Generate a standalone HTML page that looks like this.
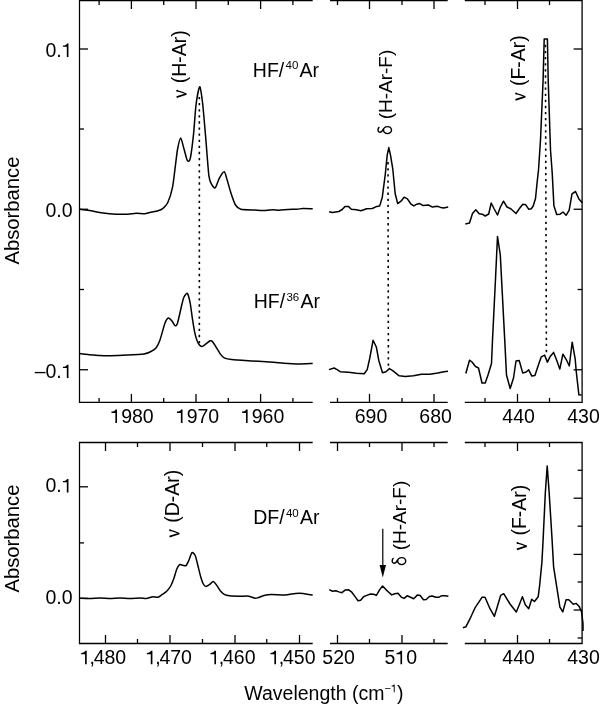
<!DOCTYPE html>
<html><head><meta charset="utf-8"><title>Absorbance spectra</title>
<style>
html,body{margin:0;padding:0;background:#fff;}
svg{display:block;will-change:transform;}
text{font-family:"Liberation Sans",sans-serif;fill:#000;}
.one,.hid{fill:transparent;}
</style></head><body>
<svg width="600" height="704" viewBox="0 0 600 704" stroke="#000" fill="#000">
<line x1="79.00" y1="0.50" x2="312.70" y2="0.50" stroke-width="1.3"/>
<line x1="79.00" y1="402.40" x2="312.70" y2="402.40" stroke-width="1.3"/>
<line x1="330.00" y1="0.50" x2="447.70" y2="0.50" stroke-width="1.3"/>
<line x1="330.00" y1="402.40" x2="447.70" y2="402.40" stroke-width="1.3"/>
<line x1="464.80" y1="0.50" x2="582.30" y2="0.50" stroke-width="1.3"/>
<line x1="464.80" y1="402.40" x2="582.30" y2="402.40" stroke-width="1.3"/>
<line x1="79.50" y1="-0.10" x2="79.50" y2="403.00" stroke-width="1.25"/>
<line x1="582.10" y1="-0.10" x2="582.10" y2="403.00" stroke-width="1.3"/>
<line x1="79.00" y1="442.50" x2="312.70" y2="442.50" stroke-width="1.3"/>
<line x1="79.00" y1="643.50" x2="312.70" y2="643.50" stroke-width="1.3"/>
<line x1="330.00" y1="442.50" x2="447.70" y2="442.50" stroke-width="1.3"/>
<line x1="330.00" y1="643.50" x2="447.70" y2="643.50" stroke-width="1.3"/>
<line x1="464.80" y1="442.50" x2="582.30" y2="442.50" stroke-width="1.3"/>
<line x1="464.80" y1="643.50" x2="582.30" y2="643.50" stroke-width="1.3"/>
<line x1="79.50" y1="441.90" x2="79.50" y2="644.10" stroke-width="1.25"/>
<line x1="582.10" y1="441.90" x2="582.10" y2="644.10" stroke-width="1.3"/>
<line x1="131.40" y1="0.50" x2="131.40" y2="9.00" stroke-width="1.3"/>
<line x1="131.40" y1="402.40" x2="131.40" y2="393.90" stroke-width="1.3"/>
<line x1="196.00" y1="0.50" x2="196.00" y2="9.00" stroke-width="1.3"/>
<line x1="196.00" y1="402.40" x2="196.00" y2="393.90" stroke-width="1.3"/>
<line x1="260.60" y1="0.50" x2="260.60" y2="9.00" stroke-width="1.3"/>
<line x1="260.60" y1="402.40" x2="260.60" y2="393.90" stroke-width="1.3"/>
<line x1="99.10" y1="0.50" x2="99.10" y2="5.00" stroke-width="1.3"/>
<line x1="99.10" y1="402.40" x2="99.10" y2="397.90" stroke-width="1.3"/>
<line x1="163.70" y1="0.50" x2="163.70" y2="5.00" stroke-width="1.3"/>
<line x1="163.70" y1="402.40" x2="163.70" y2="397.90" stroke-width="1.3"/>
<line x1="228.30" y1="0.50" x2="228.30" y2="5.00" stroke-width="1.3"/>
<line x1="228.30" y1="402.40" x2="228.30" y2="397.90" stroke-width="1.3"/>
<line x1="292.90" y1="0.50" x2="292.90" y2="5.00" stroke-width="1.3"/>
<line x1="292.90" y1="402.40" x2="292.90" y2="397.90" stroke-width="1.3"/>
<line x1="369.50" y1="0.50" x2="369.50" y2="9.00" stroke-width="1.3"/>
<line x1="369.50" y1="402.40" x2="369.50" y2="393.90" stroke-width="1.3"/>
<line x1="434.00" y1="0.50" x2="434.00" y2="9.00" stroke-width="1.3"/>
<line x1="434.00" y1="402.40" x2="434.00" y2="393.90" stroke-width="1.3"/>
<line x1="337.50" y1="0.50" x2="337.50" y2="5.00" stroke-width="1.3"/>
<line x1="337.50" y1="402.40" x2="337.50" y2="397.90" stroke-width="1.3"/>
<line x1="402.00" y1="0.50" x2="402.00" y2="5.00" stroke-width="1.3"/>
<line x1="402.00" y1="402.40" x2="402.00" y2="397.90" stroke-width="1.3"/>
<line x1="517.50" y1="0.50" x2="517.50" y2="9.00" stroke-width="1.3"/>
<line x1="517.50" y1="402.40" x2="517.50" y2="393.90" stroke-width="1.3"/>
<line x1="485.00" y1="0.50" x2="485.00" y2="5.00" stroke-width="1.3"/>
<line x1="485.00" y1="402.40" x2="485.00" y2="397.90" stroke-width="1.3"/>
<line x1="549.50" y1="0.50" x2="549.50" y2="5.00" stroke-width="1.3"/>
<line x1="549.50" y1="402.40" x2="549.50" y2="397.90" stroke-width="1.3"/>
<line x1="79.50" y1="49.00" x2="88.00" y2="49.00" stroke-width="1.3"/>
<line x1="582.10" y1="49.00" x2="573.60" y2="49.00" stroke-width="1.3"/>
<line x1="79.50" y1="209.25" x2="88.00" y2="209.25" stroke-width="1.3"/>
<line x1="582.10" y1="209.25" x2="573.60" y2="209.25" stroke-width="1.3"/>
<line x1="79.50" y1="369.75" x2="88.00" y2="369.75" stroke-width="1.3"/>
<line x1="582.10" y1="369.75" x2="573.60" y2="369.75" stroke-width="1.3"/>
<line x1="79.50" y1="129.00" x2="84.00" y2="129.00" stroke-width="1.3"/>
<line x1="582.10" y1="129.00" x2="577.60" y2="129.00" stroke-width="1.3"/>
<line x1="79.50" y1="289.50" x2="84.00" y2="289.50" stroke-width="1.3"/>
<line x1="582.10" y1="289.50" x2="577.60" y2="289.50" stroke-width="1.3"/>
<line x1="105.50" y1="442.50" x2="105.50" y2="451.00" stroke-width="1.3"/>
<line x1="105.50" y1="643.50" x2="105.50" y2="635.00" stroke-width="1.3"/>
<line x1="170.00" y1="442.50" x2="170.00" y2="451.00" stroke-width="1.3"/>
<line x1="170.00" y1="643.50" x2="170.00" y2="635.00" stroke-width="1.3"/>
<line x1="235.00" y1="442.50" x2="235.00" y2="451.00" stroke-width="1.3"/>
<line x1="235.00" y1="643.50" x2="235.00" y2="635.00" stroke-width="1.3"/>
<line x1="299.50" y1="442.50" x2="299.50" y2="451.00" stroke-width="1.3"/>
<line x1="299.50" y1="643.50" x2="299.50" y2="635.00" stroke-width="1.3"/>
<line x1="137.50" y1="442.50" x2="137.50" y2="447.00" stroke-width="1.3"/>
<line x1="137.50" y1="643.50" x2="137.50" y2="639.00" stroke-width="1.3"/>
<line x1="202.50" y1="442.50" x2="202.50" y2="447.00" stroke-width="1.3"/>
<line x1="202.50" y1="643.50" x2="202.50" y2="639.00" stroke-width="1.3"/>
<line x1="266.75" y1="442.50" x2="266.75" y2="447.00" stroke-width="1.3"/>
<line x1="266.75" y1="643.50" x2="266.75" y2="639.00" stroke-width="1.3"/>
<line x1="337.50" y1="442.50" x2="337.50" y2="451.00" stroke-width="1.3"/>
<line x1="337.50" y1="643.50" x2="337.50" y2="635.00" stroke-width="1.3"/>
<line x1="402.00" y1="442.50" x2="402.00" y2="451.00" stroke-width="1.3"/>
<line x1="402.00" y1="643.50" x2="402.00" y2="635.00" stroke-width="1.3"/>
<line x1="369.50" y1="442.50" x2="369.50" y2="447.00" stroke-width="1.3"/>
<line x1="369.50" y1="643.50" x2="369.50" y2="639.00" stroke-width="1.3"/>
<line x1="434.00" y1="442.50" x2="434.00" y2="447.00" stroke-width="1.3"/>
<line x1="434.00" y1="643.50" x2="434.00" y2="639.00" stroke-width="1.3"/>
<line x1="517.50" y1="442.50" x2="517.50" y2="451.00" stroke-width="1.3"/>
<line x1="517.50" y1="643.50" x2="517.50" y2="635.00" stroke-width="1.3"/>
<line x1="485.00" y1="442.50" x2="485.00" y2="447.00" stroke-width="1.3"/>
<line x1="485.00" y1="643.50" x2="485.00" y2="639.00" stroke-width="1.3"/>
<line x1="549.50" y1="442.50" x2="549.50" y2="447.00" stroke-width="1.3"/>
<line x1="549.50" y1="643.50" x2="549.50" y2="639.00" stroke-width="1.3"/>
<line x1="79.50" y1="486.80" x2="88.00" y2="486.80" stroke-width="1.3"/>
<line x1="79.50" y1="598.40" x2="88.00" y2="598.40" stroke-width="1.3"/>
<line x1="79.50" y1="542.90" x2="84.00" y2="542.90" stroke-width="1.3"/>
<line x1="582.10" y1="498.20" x2="573.60" y2="498.20" stroke-width="1.3"/>
<line x1="582.10" y1="554.40" x2="573.60" y2="554.40" stroke-width="1.3"/>
<line x1="582.10" y1="610.00" x2="573.60" y2="610.00" stroke-width="1.3"/>
<line x1="582.10" y1="470.25" x2="577.60" y2="470.25" stroke-width="1.3"/>
<line x1="582.10" y1="526.20" x2="577.60" y2="526.20" stroke-width="1.3"/>
<line x1="582.10" y1="582.00" x2="577.60" y2="582.00" stroke-width="1.3"/>
<line x1="582.10" y1="638.00" x2="577.60" y2="638.00" stroke-width="1.3"/>
<path d="M80.00,209.30 C80.93,209.42 85.32,209.87 88.00,210.30 C90.68,210.73 99.70,212.55 103.00,213.00 C106.30,213.45 113.38,214.06 116.30,214.20 C119.22,214.34 125.67,214.30 128.00,214.20 C130.33,214.09 134.35,213.35 136.30,213.30 C138.25,213.25 143.14,213.89 144.70,213.80 C146.26,213.71 148.15,212.85 149.70,212.50 C151.25,212.15 156.45,211.29 158.00,210.80 C159.55,210.31 161.87,209.23 163.00,208.30 C164.13,207.37 166.59,205.24 167.70,202.80 C168.81,200.36 171.61,191.66 172.50,187.40 C173.39,183.14 174.71,170.78 175.30,166.30 C175.90,161.82 176.97,152.30 177.60,149.00 C178.23,145.70 179.95,138.00 180.70,138.00 C181.45,138.00 183.22,146.36 184.00,149.00 C184.78,151.64 186.66,159.51 187.40,160.60 C188.14,161.69 189.58,161.44 190.30,158.30 C191.02,155.16 192.94,139.92 193.60,133.70 C194.26,127.48 195.29,110.48 196.00,105.00 C196.71,99.52 198.93,86.93 199.70,86.70 C200.47,86.47 201.90,97.06 202.60,103.00 C203.30,108.94 204.96,129.09 205.70,137.60 C206.44,146.10 208.19,170.42 208.90,175.90 C209.61,181.38 211.05,183.21 211.80,184.60 C212.55,185.99 214.40,188.59 215.30,187.80 C216.20,187.01 218.45,179.68 219.50,177.80 C220.55,175.92 223.41,171.47 224.30,171.70 C225.19,171.93 226.32,177.29 227.10,179.80 C227.88,182.31 230.02,190.26 231.00,193.20 C231.98,196.14 234.36,203.13 235.50,205.00 C236.64,206.87 238.47,208.62 240.75,209.20 C243.03,209.78 252.11,209.85 255.00,210.00 C257.89,210.15 263.40,210.53 265.50,210.50 C267.60,210.47 271.43,209.73 273.00,209.70 C274.57,209.67 277.25,210.27 279.00,210.25 C280.75,210.23 285.90,209.62 288.00,209.50 C290.10,209.38 295.25,209.32 297.00,209.20 C298.75,209.08 301.17,208.55 303.00,208.50 C304.83,208.45 311.57,208.72 312.70,208.75" fill="none" stroke-width="1.5" stroke-linejoin="round"/>
<path d="M80.00,353.60 C80.93,353.72 85.67,354.37 88.00,354.60 C90.33,354.83 96.50,355.51 100.00,355.60 C103.50,355.69 113.57,355.52 118.00,355.40 C122.43,355.28 134.97,354.76 138.00,354.60 C141.03,354.44 142.60,354.30 144.00,354.00 C145.40,353.70 148.60,352.70 150.00,352.00 C151.40,351.30 154.83,349.40 156.00,348.00 C157.17,346.60 158.95,342.92 160.00,340.00 C161.05,337.08 164.02,325.57 165.00,323.00 C165.98,320.43 167.58,318.23 168.40,318.00 C169.22,317.77 171.23,320.11 172.00,321.00 C172.77,321.89 174.37,325.30 175.00,325.60 C175.63,325.90 176.58,326.12 177.40,323.60 C178.22,321.08 181.23,307.10 182.00,304.00 C182.77,300.90 183.38,298.24 184.00,297.00 C184.62,295.76 186.59,292.73 187.30,293.40 C188.01,294.06 189.50,299.76 190.10,302.70 C190.69,305.64 191.86,315.15 192.40,318.60 C192.94,322.05 194.17,329.78 194.70,332.30 C195.22,334.82 196.38,338.74 196.90,340.20 C197.43,341.66 198.60,344.06 199.20,344.80 C199.79,345.54 201.26,346.57 202.00,346.50 C202.74,346.43 204.57,344.87 205.50,344.20 C206.43,343.53 209.21,341.13 210.00,340.80 C210.79,340.47 211.64,340.73 212.30,341.40 C212.97,342.06 214.78,345.04 215.70,346.50 C216.62,347.96 219.21,352.58 220.20,353.90 C221.19,355.22 222.86,357.13 224.20,357.80 C225.54,358.47 228.40,359.23 231.70,359.60 C235.00,359.97 247.65,360.69 252.50,361.00 C257.35,361.31 269.65,362.03 273.30,362.30 C276.95,362.57 280.83,363.10 283.75,363.30 C286.67,363.50 294.92,363.98 298.30,364.00 C301.68,364.02 311.02,363.56 312.70,363.50" fill="none" stroke-width="1.5" stroke-linejoin="round"/>
<polyline points="329.1,211.8 332.5,212.5 338.8,211.5 342.2,209.5 345.0,206.4 348.4,206.4 351.3,209.3 356.4,209.8 361.0,210.7 366.6,208.7 372.3,208.5 376.8,206.4 379.7,205.9 382.3,197.2 385.2,175.0 387.2,155.2 388.8,147.6 390.5,155.2 392.8,169.2 395.2,193.7 397.7,203.6 401.0,201.2 404.1,197.2 407.4,198.9 410.9,204.0 413.8,205.9 416.8,204.2 419.7,203.6 423.2,205.6 428.4,205.0 432.5,207.1 437.2,206.3 440.7,207.4 443.6,208.0 448.2,207.1" fill="none" stroke-width="1.5" stroke-linejoin="round"/>
<polyline points="329.0,369.6 334.1,368.0 337.1,369.6 340.2,371.7 348.3,372.3 356.5,373.3 364.2,373.7 367.2,369.6 369.7,358.5 373.1,340.2 376.4,347.3 378.8,360.5 382.5,372.7 386.0,371.7 389.4,368.6 392.7,370.7 399.2,375.8 405.3,376.4 413.4,375.8 421.5,374.3 429.7,374.3 437.8,373.1 443.9,371.7 448.0,371.3" fill="none" stroke-width="1.5" stroke-linejoin="round"/>
<polyline points="465.3,224.0 469.5,223.0 472.5,213.5 475.8,209.8 479.2,213.8 482.2,214.2 485.2,216.0 488.7,214.0 491.2,203.0 494.2,209.0 497.5,215.0 500.2,207.5 503.5,201.2 507.0,207.0 510.8,208.7 516.0,213.5 519.8,208.0 522.8,204.2 525.8,204.8 528.8,209.3 531.3,208.7 533.2,206.0 535.5,198.5 537.0,183.5 538.5,170.0 540.5,140.0 543.1,80.0 544.2,39.1 547.4,39.1 548.2,80.0 550.5,150.0 552.2,172.7 553.9,205.7 556.7,214.5 560.1,214.2 563.0,212.0 566.1,215.3 569.2,210.2 572.0,193.8 575.5,191.5 578.9,198.9 582.3,202.8" fill="none" stroke-width="1.5" stroke-linejoin="round"/>
<polyline points="465.8,373.5 469.5,360.2 472.0,362.0 475.5,366.5 478.5,368.0 482.0,383.0 485.2,383.0 488.0,375.0 491.5,363.5 492.5,340.0 495.6,277.0 497.5,236.6 500.3,255.0 504.7,339.4 506.5,375.0 510.2,388.5 513.5,378.0 516.0,361.0 519.2,360.5 522.7,372.9 526.2,372.0 528.7,369.9 531.8,376.1 534.9,375.5 538.4,365.0 541.3,356.8 544.6,355.1 547.4,362.1 550.4,356.2 553.6,352.4 556.5,359.8 559.8,369.1 562.9,354.2 566.4,359.8 569.3,366.0 572.2,342.2 575.2,359.2 576.3,372.0 578.9,394.8 581.6,395.1" fill="none" stroke-width="1.5" stroke-linejoin="round"/>
<path d="M80.00,598.30 C81.17,598.33 87.67,598.63 90.00,598.60 C92.33,598.57 97.67,598.01 100.00,598.00 C102.33,597.99 107.67,598.49 110.00,598.50 C112.33,598.51 117.67,598.09 120.00,598.10 C122.33,598.11 127.67,598.61 130.00,598.60 C132.33,598.59 138.13,598.02 140.00,598.00 C141.87,597.98 144.72,598.49 146.00,598.40 C147.28,598.31 150.15,597.40 151.00,597.20 C151.85,597.00 152.48,596.69 153.30,596.70 C154.12,596.71 156.99,597.53 158.00,597.30 C159.01,597.07 160.99,595.40 162.00,594.70 C163.01,594.00 165.69,592.31 166.70,591.30 C167.71,590.28 169.85,587.55 170.70,586.00 C171.55,584.45 173.30,579.95 174.00,578.00 C174.70,576.05 176.05,570.85 176.70,569.30 C177.35,567.75 178.90,565.17 179.60,564.70 C180.30,564.23 181.95,565.19 182.70,565.30 C183.45,565.40 185.30,566.14 186.00,565.60 C186.70,565.06 188.00,562.21 188.70,560.70 C189.40,559.20 191.23,553.28 192.00,552.70 C192.77,552.12 194.60,554.15 195.30,555.70 C196.00,557.25 197.37,563.55 198.00,566.00 C198.63,568.45 200.08,574.60 200.70,576.70 C201.32,578.80 202.68,582.87 203.30,584.00 C203.92,585.13 205.30,586.32 206.00,586.40 C206.70,586.48 208.45,585.26 209.30,584.70 C210.15,584.14 212.44,581.53 213.30,581.60 C214.16,581.67 215.84,584.17 216.70,585.30 C217.56,586.43 219.77,590.20 220.70,591.30 C221.63,592.40 223.67,594.18 224.70,594.70 C225.73,595.22 227.72,595.58 229.50,595.75 C231.28,595.92 237.72,596.15 240.00,596.20 C242.28,596.25 247.25,595.96 249.00,596.20 C250.75,596.45 253.95,598.12 255.00,598.30 C256.05,598.47 256.95,598.03 258.00,597.70 C259.05,597.37 262.43,595.82 264.00,595.45 C265.57,595.08 269.05,594.60 271.50,594.55 C273.95,594.50 282.20,595.12 285.00,595.00 C287.80,594.88 293.40,593.67 295.50,593.50 C297.60,593.33 301.43,593.38 303.00,593.50 C304.57,593.62 307.87,594.38 309.00,594.55 C310.13,594.72 312.27,594.95 312.70,595.00" fill="none" stroke-width="1.5" stroke-linejoin="round"/>
<polyline points="329.2,589.6 332.6,591.2 335.8,590.7 338.9,591.9 341.9,592.7 345.1,590.1 348.7,589.8 351.8,592.2 354.9,596.4 358.0,600.7 360.6,600.2 363.6,596.7 366.2,595.6 370.4,594.0 373.5,594.3 376.4,595.3 379.7,589.6 382.6,586.0 385.9,589.6 388.2,591.7 391.7,594.9 394.8,593.8 398.0,593.3 401.2,597.1 404.0,598.4 407.2,595.8 410.5,597.3 413.7,598.7 417.5,594.9 420.2,595.5 423.5,599.8 426.2,599.5 429.4,596.5 432.1,596.0 435.9,597.3 438.6,597.3 441.9,595.7 445.1,595.7 448.4,596.3" fill="none" stroke-width="1.5" stroke-linejoin="round"/>
<polyline points="462.9,627.7 466.0,626.7 470.7,617.3 475.3,607.3 482.0,597.3 485.0,597.3 490.0,608.7 494.4,616.3 497.3,606.7 500.7,595.3 503.7,593.7 510.0,604.0 516.3,612.0 519.3,604.7 522.4,596.7 525.3,604.7 528.7,608.7 531.7,599.3 534.5,601.5 538.2,596.7 539.7,584.8 541.9,562.4 543.1,540.0 545.3,493.3 547.2,465.9 549.2,493.3 552.1,540.0 553.6,566.9 556.9,587.8 559.9,607.2 562.8,611.9 566.1,599.7 568.8,599.7 573.3,604.2 576.3,603.4 579.2,606.4 581.5,611.6 583.0,623.6 583.0,631.0" fill="none" stroke-width="1.5" stroke-linejoin="round"/>
<line x1="199.35" y1="96.95" x2="199.35" y2="344" stroke-width="1.6" stroke-dasharray="2.3 3.8"/>
<line x1="388.0" y1="162.1" x2="388.4" y2="368" stroke-width="1.6" stroke-dasharray="2.3 3.8"/>
<line x1="545.4" y1="44.85" x2="546.4" y2="352.5" stroke-width="1.6" stroke-dasharray="2.3 3.8"/>
<line x1="382.80" y1="528.70" x2="382.80" y2="566.00" stroke-width="1.2"/>
<polygon points="379.6,565 386,565 382.8,577.6" stroke="none"/>
<text stroke="none" x="72.6" y="56.9" font-size="19.5" text-anchor="end">0.<tspan class="one">1</tspan></text>
<text stroke="none" x="72.6" y="217.2" font-size="19.5" text-anchor="end">0.0</text>
<text stroke="none" x="72.6" y="378.1" font-size="19.5" text-anchor="end">–0.<tspan class="one">1</tspan></text>
<text stroke="none" x="72.6" y="492.4" font-size="19.5" text-anchor="end">0.<tspan class="one">1</tspan></text>
<text stroke="none" x="72.6" y="604" font-size="19.5" text-anchor="end">0.0</text>
<text stroke="none" x="132" y="423" font-size="19.5" text-anchor="middle"><tspan class="one">1</tspan>980</text>
<text stroke="none" x="197.5" y="423" font-size="19.5" text-anchor="middle"><tspan class="one">1</tspan>970</text>
<text stroke="none" x="262.6" y="423" font-size="19.5" text-anchor="middle"><tspan class="one">1</tspan>960</text>
<text stroke="none" x="371" y="423" font-size="19.5" text-anchor="middle">690</text>
<text stroke="none" x="435.6" y="423" font-size="19.5" text-anchor="middle">680</text>
<text stroke="none" x="518.6" y="423" font-size="19.5" text-anchor="middle">440</text>
<text stroke="none" x="583.5" y="423" font-size="19.5" text-anchor="middle">430</text>
<text stroke="none" x="80.0" y="664.3" font-size="19.5"><tspan class="one">1</tspan><tspan dx="-1.3">,</tspan><tspan dx="-1.3">480</tspan></text>
<text stroke="none" x="145.7" y="664.3" font-size="19.5"><tspan class="one">1</tspan><tspan dx="-1.3">,</tspan><tspan dx="-1.3">470</tspan></text>
<text stroke="none" x="209.3" y="664.3" font-size="19.5"><tspan class="one">1</tspan><tspan dx="-1.3">,</tspan><tspan dx="-1.3">460</tspan></text>
<text stroke="none" x="269.3" y="664.3" font-size="19.5"><tspan class="one">1</tspan><tspan dx="-1.3">,</tspan><tspan dx="-1.3">450</tspan></text>
<text stroke="none" x="338.6" y="664.3" font-size="19.5" text-anchor="middle">520</text>
<text stroke="none" x="400.8" y="664.3" font-size="19.5" text-anchor="middle">5<tspan class="one">1</tspan>0</text>
<text stroke="none" x="518.6" y="664.3" font-size="19.5" text-anchor="middle">440</text>
<text stroke="none" x="583.5" y="664.3" font-size="19.5" text-anchor="middle">430</text>
<text stroke="none" x="18.9" y="264.6" font-size="20.25" text-anchor="start" transform="rotate(-90 18.9 264.6)">Absorbance</text>
<text stroke="none" x="18.9" y="592.6" font-size="20.25" text-anchor="start" transform="rotate(-90 18.9 592.6)">Absorbance</text>
<text stroke="none" x="244.3" y="700.4" font-size="19.5">Wavelength (cm<tspan font-size="11" dy="-8.2">−</tspan><tspan font-size="11" class="one">1</tspan><tspan dy="8.2">)</tspan></text>
<text stroke="none" x="252.8" y="76.6" font-size="19.5">HF/<tspan font-size="11.5" dx="1.3" dy="-7.2">40</tspan><tspan dx="1.2" dy="7.2">Ar</tspan></text>
<text stroke="none" x="253.7" y="307.9" font-size="19.5">HF/<tspan font-size="11.5" dx="1.3" dy="-7.2">36</tspan><tspan dx="1.2" dy="7.2">Ar</tspan></text>
<text stroke="none" x="253.2" y="524.2" font-size="19.5">DF/<tspan font-size="11.5" dx="1.3" dy="-7.2">40</tspan><tspan dx="1.2" dy="7.2">Ar</tspan></text>
<text stroke="none" x="186.1" y="98.5" font-size="19.5" text-anchor="start" transform="rotate(-90 186.1 98.5)"><tspan class="hid">ν</tspan> (H-Ar)</text>
<g transform="translate(186.1 98.5) rotate(-90)"><path d="M1.4,-9.5 L4.5,0.3" fill="none" stroke-width="1.8"/><path d="M4.5,0.3 Q6.5,-4.4 7.6,-8.8" fill="none" stroke-width="1.1"/><circle cx="7.7" cy="-8.9" r="1.0" stroke="none"/></g>
<text stroke="none" x="392.1" y="135.2" font-size="19" text-anchor="start" transform="rotate(-90 392.1 135.2)"><tspan class="hid">δ</tspan> (H-Ar-F)</text>
<path transform="translate(392.1 135.2) rotate(-90)" d="M5.1,-0.6 A3.5,4.0 0 1 1 5.1,-8.6 A3.5,4.0 0 1 1 5.1,-0.6 Z M6.8,-8.2 C4.2,-9.6 2.6,-11.4 3.1,-12.9 C3.6,-14.4 6.0,-14.5 7.8,-13.2" fill="none" stroke-width="1.45" stroke-linecap="round"/>
<text stroke="none" x="525.0" y="101.2" font-size="19.5" text-anchor="start" transform="rotate(-90 525.0 101.2)"><tspan class="hid">ν</tspan> (F-Ar)</text>
<g transform="translate(525.0 101.2) rotate(-90)"><path d="M1.4,-9.5 L4.5,0.3" fill="none" stroke-width="1.8"/><path d="M4.5,0.3 Q6.5,-4.4 7.6,-8.8" fill="none" stroke-width="1.1"/><circle cx="7.7" cy="-8.9" r="1.0" stroke="none"/></g>
<text stroke="none" x="179.0" y="538.0" font-size="19.5" text-anchor="start" transform="rotate(-90 179.0 538.0)"><tspan class="hid">ν</tspan> (D-Ar)</text>
<g transform="translate(179.0 538.0) rotate(-90)"><path d="M1.4,-9.5 L4.5,0.3" fill="none" stroke-width="1.8"/><path d="M4.5,0.3 Q6.5,-4.4 7.6,-8.8" fill="none" stroke-width="1.1"/><circle cx="7.7" cy="-8.9" r="1.0" stroke="none"/></g>
<text stroke="none" x="406.3" y="566.2" font-size="19" text-anchor="start" transform="rotate(-90 406.3 566.2)"><tspan class="hid">δ</tspan> (H-Ar-F)</text>
<path transform="translate(406.3 566.2) rotate(-90)" d="M5.1,-0.6 A3.5,4.0 0 1 1 5.1,-8.6 A3.5,4.0 0 1 1 5.1,-0.6 Z M6.8,-8.2 C4.2,-9.6 2.6,-11.4 3.1,-12.9 C3.6,-14.4 6.0,-14.5 7.8,-13.2" fill="none" stroke-width="1.45" stroke-linecap="round"/>
<text stroke="none" x="526.4" y="550.7" font-size="19.5" text-anchor="start" transform="rotate(-90 526.4 550.7)"><tspan class="hid">ν</tspan> (F-Ar)</text>
<g transform="translate(526.4 550.7) rotate(-90)"><path d="M1.4,-9.5 L4.5,0.3" fill="none" stroke-width="1.8"/><path d="M4.5,0.3 Q6.5,-4.4 7.6,-8.8" fill="none" stroke-width="1.1"/><circle cx="7.7" cy="-8.9" r="1.0" stroke="none"/></g>
<path transform="translate(61.74 56.90) scale(19.5)" d="M0.345,-0.69 L0.345,0 L0.26,0 L0.26,-0.515 L0.06,-0.515 L0.06,-0.585 C0.17,-0.59 0.245,-0.62 0.265,-0.69 Z" stroke="none"/>
<path transform="translate(61.74 378.10) scale(19.5)" d="M0.345,-0.69 L0.345,0 L0.26,0 L0.26,-0.515 L0.06,-0.515 L0.06,-0.585 C0.17,-0.59 0.245,-0.62 0.265,-0.69 Z" stroke="none"/>
<path transform="translate(61.74 492.40) scale(19.5)" d="M0.345,-0.69 L0.345,0 L0.26,0 L0.26,-0.515 L0.06,-0.515 L0.06,-0.585 C0.17,-0.59 0.245,-0.62 0.265,-0.69 Z" stroke="none"/>
<path transform="translate(110.30 423.00) scale(19.5)" d="M0.345,-0.69 L0.345,0 L0.26,0 L0.26,-0.515 L0.06,-0.515 L0.06,-0.585 C0.17,-0.59 0.245,-0.62 0.265,-0.69 Z" stroke="none"/>
<path transform="translate(175.80 423.00) scale(19.5)" d="M0.345,-0.69 L0.345,0 L0.26,0 L0.26,-0.515 L0.06,-0.515 L0.06,-0.585 C0.17,-0.59 0.245,-0.62 0.265,-0.69 Z" stroke="none"/>
<path transform="translate(240.90 423.00) scale(19.5)" d="M0.345,-0.69 L0.345,0 L0.26,0 L0.26,-0.515 L0.06,-0.515 L0.06,-0.585 C0.17,-0.59 0.245,-0.62 0.265,-0.69 Z" stroke="none"/>
<path transform="translate(80.00 664.30) scale(19.5)" d="M0.345,-0.69 L0.345,0 L0.26,0 L0.26,-0.515 L0.06,-0.515 L0.06,-0.585 C0.17,-0.59 0.245,-0.62 0.265,-0.69 Z" stroke="none"/>
<path transform="translate(145.70 664.30) scale(19.5)" d="M0.345,-0.69 L0.345,0 L0.26,0 L0.26,-0.515 L0.06,-0.515 L0.06,-0.585 C0.17,-0.59 0.245,-0.62 0.265,-0.69 Z" stroke="none"/>
<path transform="translate(209.30 664.30) scale(19.5)" d="M0.345,-0.69 L0.345,0 L0.26,0 L0.26,-0.515 L0.06,-0.515 L0.06,-0.585 C0.17,-0.59 0.245,-0.62 0.265,-0.69 Z" stroke="none"/>
<path transform="translate(269.30 664.30) scale(19.5)" d="M0.345,-0.69 L0.345,0 L0.26,0 L0.26,-0.515 L0.06,-0.515 L0.06,-0.585 C0.17,-0.59 0.245,-0.62 0.265,-0.69 Z" stroke="none"/>
<path transform="translate(395.37 664.30) scale(19.5)" d="M0.345,-0.69 L0.345,0 L0.26,0 L0.26,-0.515 L0.06,-0.515 L0.06,-0.585 C0.17,-0.59 0.245,-0.62 0.265,-0.69 Z" stroke="none"/>
<path transform="translate(390.89 692.20) scale(11)" d="M0.345,-0.69 L0.345,0 L0.26,0 L0.26,-0.515 L0.06,-0.515 L0.06,-0.585 C0.17,-0.59 0.245,-0.62 0.265,-0.69 Z" stroke="none"/>
</svg>
</body></html>
